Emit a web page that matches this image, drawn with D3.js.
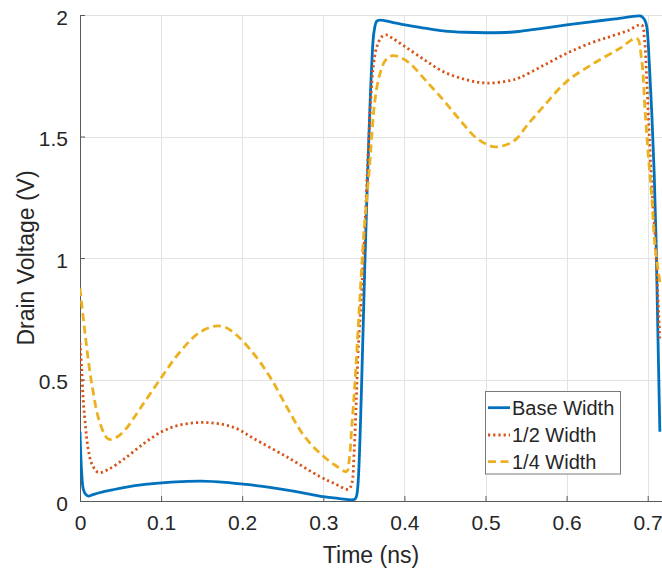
<!DOCTYPE html>
<html>
<head>
<meta charset="utf-8">
<script src="https://cdn.jsdelivr.net/npm/d3@7"></script>
<style>
  html, body { margin: 0; padding: 0; background: #fff; }
  svg { display: block; }
  text { font-family: "Liberation Sans", Arial, Helvetica, sans-serif; fill: #262626; }
</style>
</head>
<body>
<svg id="chart" width="662" height="570"></svg>
<script>
// ---- data ----
const seriesNames = ["Base Width", "1/2 Width", "1/4 Width"];
const seriesColors = ["#0072BD", "#D95319", "#EDB120"];

const timeBase = [0, 0.002, 0.004, 0.007, 0.0103, 0.015, 0.025, 0.04, 0.0555, 0.08, 0.1007, 0.125, 0.15, 0.179, 0.205, 0.234, 0.265, 0.3, 0.32, 0.335, 0.339, 0.341, 0.343, 0.347, 0.351, 0.355, 0.3596, 0.3625, 0.366, 0.37, 0.385, 0.4007, 0.425, 0.448, 0.475, 0.501, 0.53, 0.5425, 0.57, 0.6, 0.63, 0.66, 0.6905, 0.694, 0.697, 0.699, 0.702, 0.705, 0.708, 0.7105, 0.7125, 0.715];
const voltBase = [0.285, 0.12, 0.05, 0.027, 0.02, 0.025, 0.035, 0.046, 0.056, 0.068, 0.075, 0.08, 0.082, 0.077, 0.068, 0.056, 0.04, 0.018, 0.01, 0.005, 0.008, 0.02, 0.08, 0.45, 0.95, 1.376, 1.787, 1.93, 1.975, 1.979, 1.97, 1.959, 1.946, 1.935, 1.929, 1.927, 1.929, 1.933, 1.945, 1.959, 1.972, 1.984, 1.996, 1.99, 1.975, 1.95, 1.8, 1.6, 1.35, 1.05, 0.7, 0.285];

const timeHalf = [0, 0.002, 0.004, 0.007, 0.0103, 0.015, 0.0226, 0.035, 0.0555, 0.08, 0.1007, 0.12, 0.142, 0.16, 0.179, 0.195, 0.2137, 0.2548, 0.296, 0.315, 0.331, 0.335, 0.338, 0.3405, 0.343, 0.3473, 0.351, 0.3546, 0.3585, 0.3617, 0.366, 0.372, 0.378, 0.385, 0.4007, 0.425, 0.448, 0.475, 0.501, 0.53, 0.5425, 0.57, 0.6, 0.63, 0.6535, 0.675, 0.6925, 0.696, 0.699, 0.702, 0.705, 0.709, 0.712, 0.715];
const voltHalf = [0.65, 0.55, 0.415, 0.3, 0.21, 0.15, 0.117, 0.13, 0.176, 0.24, 0.285, 0.31, 0.322, 0.322, 0.313, 0.295, 0.258, 0.182, 0.1, 0.07, 0.048, 0.07, 0.2, 0.4, 0.62, 0.86, 1.1, 1.376, 1.65, 1.79, 1.87, 1.91, 1.918, 1.905, 1.87, 1.815, 1.767, 1.735, 1.72, 1.73, 1.743, 1.79, 1.842, 1.885, 1.911, 1.935, 1.959, 1.9, 1.72, 1.5, 1.3, 1.1, 0.88, 0.663];

const timeQuarter = [0, 0.0062, 0.0144, 0.0247, 0.0349, 0.045, 0.0555, 0.076, 0.1007, 0.1212, 0.1458, 0.1665, 0.179, 0.193, 0.2137, 0.234, 0.2548, 0.2754, 0.296, 0.3144, 0.3288, 0.332, 0.335, 0.339, 0.345, 0.35, 0.357, 0.3637, 0.37, 0.377, 0.386, 0.395, 0.407, 0.4275, 0.448, 0.4685, 0.489, 0.5096, 0.525, 0.538, 0.551, 0.5713, 0.6, 0.633, 0.6658, 0.6864, 0.6925, 0.6967, 0.7008, 0.705, 0.709, 0.715];
const voltQuarter = [0.875, 0.69, 0.484, 0.32, 0.255, 0.262, 0.292, 0.39, 0.51, 0.605, 0.69, 0.72, 0.715, 0.683, 0.608, 0.512, 0.388, 0.272, 0.196, 0.148, 0.121, 0.17, 0.3, 0.484, 0.83, 1.1, 1.376, 1.65, 1.76, 1.815, 1.833, 1.825, 1.8, 1.726, 1.65, 1.568, 1.493, 1.458, 1.465, 1.49, 1.545, 1.623, 1.726, 1.8, 1.863, 1.904, 1.815, 1.61, 1.42, 1.25, 1.05, 0.9];

const xTicks = [0, 0.1, 0.2, 0.3, 0.4, 0.5, 0.6, 0.7];
const xTickLabels = ["0", "0.1", "0.2", "0.3", "0.4", "0.5", "0.6", "0.7"];
const yTicks = [0, 0.5, 1, 1.5, 2];
const yTickLabels = ["0", "0.5", "1", "1.5", "2"];
const xLabel = "Time (ns)";
const yLabel = "Drain Voltage (V)";

// ---- layout ----
const pL = 80, pR = 662, pT = 15, pB = 501;
const svg = d3.select("#chart");
const x = d3.scaleLinear().domain([0, (pR - pL) / 811]).range([pL, pR]);
const y = d3.scaleLinear().domain([0, 2]).range([pB, pT]);

// grid
const grid = svg.append("g").attr("shape-rendering", "crispEdges");
grid.selectAll("line.gx").data(xTicks).enter().append("line")
  .attr("x1", d => Math.round(x(d)) + 0.5).attr("x2", d => Math.round(x(d)) + 0.5)
  .attr("y1", pT).attr("y2", pB)
  .attr("stroke", "#e3e3e3").attr("stroke-width", 1);
grid.selectAll("line.gy").data(yTicks).enter().append("line")
  .attr("x1", pL).attr("x2", pR)
  .attr("y1", d => Math.round(y(d)) + 0.5).attr("y2", d => Math.round(y(d)) + 0.5)
  .attr("stroke", "#e3e3e3").attr("stroke-width", 1);

// axes (inward ticks, MATLAB style)
const xAxis = d3.axisBottom(x).tickValues(xTicks).tickFormat((d, i) => xTickLabels[i])
  .tickSizeInner(-5).tickSizeOuter(0).tickPadding(14);
const yAxis = d3.axisLeft(y).tickValues(yTicks).tickFormat((d, i) => yTickLabels[i])
  .tickSizeInner(-5).tickSizeOuter(0).tickPadding(12);

const gx = svg.append("g").attr("transform", `translate(0,${pB})`).call(xAxis);
const gy = svg.append("g").attr("transform", `translate(${pL},0)`).call(yAxis);
[gx, gy].forEach(g => {
  g.select(".domain").attr("stroke", "#5a5a5a").attr("stroke-width", 1);
  g.selectAll(".tick line").attr("stroke", "#5a5a5a");
  g.selectAll(".tick text").attr("font-size", 21).attr("fill", "#262626")
    .attr("font-family", "Liberation Sans, Arial, sans-serif");
});
gx.selectAll(".tick text").attr("dy", "0.71em");
gy.selectAll(".tick text").attr("dy", "0.45em");

// axis labels
svg.append("text").attr("x", (pL + pR) / 2).attr("y", 563)
  .attr("text-anchor", "middle").attr("font-size", 23).text(xLabel);
svg.append("text").attr("transform", `translate(34,${(pT + pB) / 2}) rotate(-90)`)
  .attr("text-anchor", "middle").attr("font-size", 23).text(yLabel);

// lines
const series = [
  { t: timeBase, v: voltBase, dash: null },
  { t: timeHalf, v: voltHalf, dash: "2.2,3" },
  { t: timeQuarter, v: voltQuarter, dash: "8,4.5" }
];
const line = d3.line().x(d => x(d[0])).y(d => y(d[1])).curve(d3.curveCatmullRom.alpha(0.5));
svg.append("clipPath").attr("id", "clip").append("rect")
  .attr("x", pL).attr("y", pT - 4).attr("width", pR - pL + 4).attr("height", pB - pT + 4);
const lines = svg.append("g").attr("clip-path", "url(#clip)");
series.forEach((s, i) => {
  const pts = s.t.map((t, j) => [t, s.v[j]]);
  lines.append("path").datum(pts).attr("d", line)
    .attr("fill", "none").attr("stroke", seriesColors[i]).attr("stroke-width", 2.8)
    .attr("stroke-dasharray", s.dash).attr("stroke-linejoin", "round");
});

// legend
const lg = svg.append("g");
lg.append("rect").attr("x", 485.5).attr("y", 391.5).attr("width", 135).attr("height", 82.5)
  .attr("fill", "#fff").attr("stroke", "#7a7a7a").attr("stroke-width", 1);
const rowY = [407.7, 435, 461.7];
seriesNames.forEach((name, i) => {
  lg.append("line").attr("x1", 488).attr("x2", 510).attr("y1", rowY[i]).attr("y2", rowY[i])
    .attr("stroke", seriesColors[i]).attr("stroke-width", 2.8)
    .attr("stroke-dasharray", series[i].dash);
  lg.append("text").attr("x", 512).attr("y", rowY[i] + 7.2).attr("font-size", 20)
    .attr("fill", "#000").text(name);
});
</script>
</body>
</html>
